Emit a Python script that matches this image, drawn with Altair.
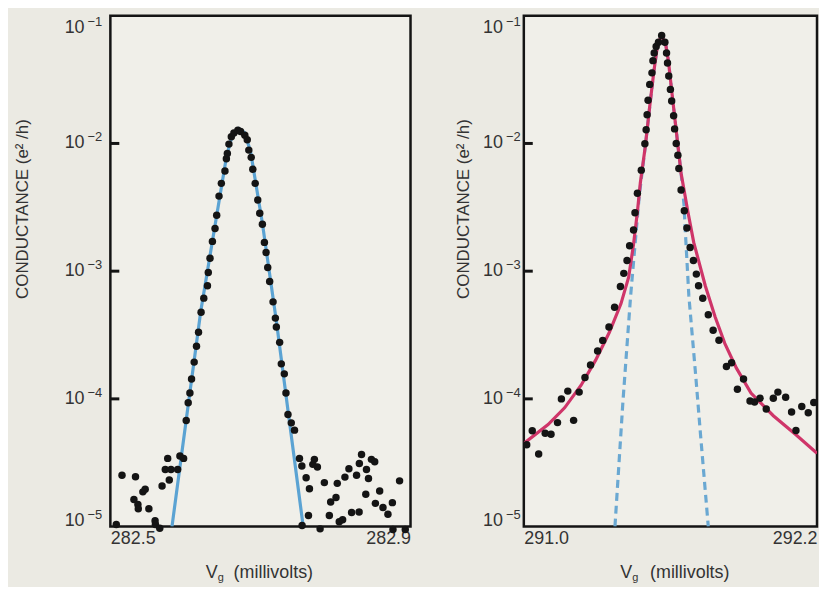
import altair as alt
import pandas as pd

# ---------------- data ----------------
# Left panel: measured points
L_VG = [282.5079, 282.5155, 282.5314, 282.5335, 282.5367, 282.5372, 282.5433, 282.5464,
        282.5513, 282.5596, 282.5600, 282.5658, 282.5689, 282.5732, 282.5764, 282.5785,
        282.5808, 282.5897, 282.5927, 282.5976, 282.6011, 282.6037, 282.6060, 282.6082,
        282.6117, 282.6148, 282.6175, 282.6209, 282.6245, 282.6294, 282.6305, 282.6328,
        282.6360, 282.6395, 282.6417, 282.6448, 282.6479, 282.6527, 282.6546, 282.6559,
        282.6580, 282.6612, 282.6646, 282.6699, 282.6735, 282.6792, 282.6824, 282.6845,
        282.6877, 282.6898, 282.6930, 282.6964, 282.6991, 282.7026, 282.7053, 282.7075,
        282.7097, 282.7123, 282.7168, 282.7199, 282.7212, 282.7256, 282.7278, 282.7318,
        282.7340, 282.7367, 282.7411, 282.7454, 282.7520, 282.7552, 282.7555, 282.7609,
        282.7640, 282.7653, 282.7698, 282.7719, 282.7759, 282.7795, 282.7852, 282.7918,
        282.7936, 282.8007, 282.8024, 282.8050, 282.8095, 282.8126, 282.8179, 282.8215,
        282.8281, 282.8315, 282.8318, 282.8347, 282.8404, 282.8413, 282.8440, 282.8479,
        282.8523, 282.8532, 282.8589, 282.8633, 282.8699, 282.8758, 282.8766, 282.8854,
        282.8930]
L_G = [1.04e-5, 2.52e-5, 1.63e-5, 2.46e-5, 1.49e-5, 1.38e-5, 1.87e-5, 1.96e-5,
       1.38e-5, 1.11e-5, 1.04e-5, 0.97e-5, 2.08e-5, 2.80e-5, 3.42e-5, 2.32e-5,
       2.80e-5, 2.80e-5, 3.57e-5, 3.42e-5, 6.77e-5, 9.31e-5, 1.11e-4, 1.43e-4,
       1.94e-4, 2.58e-4, 3.32e-4, 4.76e-4, 6.15e-4, 7.68e-4, 9.77e-4, 1.26e-3,
       1.71e-3, 2.16e-3, 2.74e-3, 3.87e-3, 4.87e-3, 6.08e-3, 7.59e-3, 8.35e-3,
       9.88e-3, 1.13e-2, 1.21e-2, 1.27e-2, 1.24e-2, 1.16e-2, 1.07e-2, 8.87e-3,
       7.78e-3, 6.27e-3, 4.87e-3, 3.61e-3, 2.84e-3, 2.33e-3, 1.68e-3, 1.40e-3,
       1.07e-3, 8.31e-4, 5.75e-4, 4.29e-4, 3.65e-4, 2.77e-4, 1.88e-4, 1.57e-4,
       1.11e-4, 7.54e-5, 6.49e-5, 5.69e-5, 3.42e-5, 2.98e-5, 1.02e-5, 2.41e-5,
       1.22e-5, 1.98e-5, 3.07e-5, 3.36e-5, 2.93e-5, 0.96e-5, 2.21e-5, 1.22e-5,
       1.56e-5, 1.69e-5, 2.18e-5, 1.09e-5, 1.13e-5, 2.44e-5, 2.84e-5, 1.29e-5,
       2.52e-5, 1.30e-5, 3.12e-5, 3.67e-5, 1.79e-5, 2.80e-5, 2.38e-5, 3.36e-5,
       3.22e-5, 1.52e-5, 1.90e-5, 1.41e-5, 1.25e-5, 1.54e-5, 0.95e-5, 2.28e-5,
       0.95e-5]
# Left panel: fitted line
L_FIT_VG = [282.5821, 282.6020, 282.6205, 282.6404, 282.6550, 282.6629, 282.6709,
            282.6788, 282.6868, 282.7026, 282.7212, 282.7371, 282.7570]
L_FIT_G = [1.0e-5, 7.50e-5, 4.87e-4, 2.46e-3, 8.05e-3, 1.18e-2, 1.31e-2,
           1.22e-2, 8.66e-3, 2.37e-3, 4.07e-4, 7.78e-5, 1.0e-5]

# Right panel: measured points
R_VG = [291.0119, 291.0346, 291.0608, 291.0874, 291.1113, 291.1379, 291.1538, 291.1800,
        291.2038, 291.2265, 291.2503, 291.2730, 291.3020, 291.3230, 291.3485, 291.3715,
        291.3954, 291.4093, 291.4224, 291.4331, 291.4490, 291.4550, 291.4649, 291.4808,
        291.4955, 291.5007, 291.5046, 291.5086, 291.5154, 291.5245, 291.5285, 291.5336,
        291.5416, 291.5511, 291.5642, 291.5774, 291.5841, 291.5881, 291.5932, 291.6000,
        291.6052, 291.6131, 291.6171, 291.6238, 291.6306, 291.6346, 291.6437, 291.6568,
        291.6676, 291.6807, 291.6942, 291.7061, 291.7152, 291.7323, 291.7550, 291.7748,
        291.7987, 291.8293, 291.8503, 291.8742, 291.8992, 291.9258, 291.9445, 291.9668,
        291.9922, 292.0212, 292.0399, 292.0717, 292.0959, 292.1138, 292.1376, 292.1642,
        292.1869]
R_G = [4.38e-5, 5.62e-5, 3.70e-5, 5.38e-5, 5.29e-5, 6.52e-5, 1.00e-4, 1.15e-4,
       6.79e-5, 1.13e-4, 1.47e-4, 1.84e-4, 2.37e-4, 2.87e-4, 3.65e-4, 5.21e-4,
       7.58e-4, 9.61e-4, 1.21e-3, 1.58e-3, 2.10e-3, 2.87e-3, 4.07e-3, 6.18e-3,
       9.95e-3, 1.28e-2, 1.68e-2, 2.18e-2, 2.90e-2, 3.57e-2, 4.45e-2, 5.10e-2,
       5.75e-2, 6.21e-2, 7.00e-2, 6.21e-2, 5.10e-2, 4.27e-2, 3.37e-2, 2.65e-2,
       2.15e-2, 1.65e-2, 1.30e-2, 1.00e-2, 8.07e-3, 6.37e-3, 4.32e-3, 2.97e-3,
       2.18e-3, 1.53e-3, 1.21e-3, 9.48e-4, 7.69e-4, 6.14e-4, 4.56e-4, 3.45e-4,
       2.88e-4, 1.79e-4, 1.92e-4, 1.19e-4, 1.43e-4, 9.64e-5, 9.45e-5, 1.01e-4,
       8.32e-5, 1.01e-4, 1.13e-4, 1.03e-4, 7.90e-5, 5.65e-5, 8.71e-5, 7.79e-5,
       9.36e-5]
# Right panel: Lorentzian fit (solid red)
RED_VG = [291.0000, 291.0993, 291.1669, 291.2344, 291.2940, 291.3497, 291.3974, 291.4291,
          291.4490, 291.4649, 291.4768, 291.4967, 291.5165, 291.5324, 291.5483, 291.5642,
          291.5801, 291.5920, 291.6039, 291.6238, 291.6437, 291.6715, 291.6954, 291.7430,
          291.7828, 291.8225, 291.8702, 291.9298, 292.0212, 292.1126, 292.2000]
RED_G = [4.48e-5, 6.29e-5, 8.51e-5, 1.28e-4, 2.01e-4, 3.31e-4, 5.55e-4, 8.98e-4,
         1.62e-3, 2.92e-3, 4.90e-3, 9.31e-3, 2.04e-2, 3.68e-2, 6.07e-2, 7.00e-2,
         6.07e-2, 4.40e-2, 2.72e-2, 1.26e-2, 5.85e-3, 2.92e-3, 1.68e-3, 7.65e-4,
         4.40e-4, 2.72e-4, 1.74e-4, 1.11e-4, 7.38e-5, 5.26e-5, 3.75e-5]
# Right panel: thermal fit (dashed blue)
BLUE_VG = [291.3730, 291.4053, 291.4371, 291.4570, 291.4728, 291.4967, 291.5165, 291.5324,
           291.5483, 291.5642, 291.5801, 291.5920, 291.6039, 291.6238, 291.6437, 291.6556,
           291.6596, 291.6755, 291.7033, 291.7232, 291.7550]
BLUE_G = [1.0e-5, 9.31e-5, 6.40e-4, 1.77e-3, 3.95e-3, 9.31e-3, 2.04e-2, 3.68e-2,
          6.07e-2, 7.00e-2, 6.07e-2, 4.40e-2, 2.72e-2, 1.26e-2, 5.85e-3, 3.31e-3,
          2.31e-3, 6.40e-4, 1.54e-4, 5.26e-5, 1.0e-5]

Y_TICKS = [1e-1, 1e-2, 1e-3, 1e-4, 1e-5]
Y_BASE = "10"
Y_EXP = ["\u22121", "\u22122", "\u22123", "\u22124", "\u22125"]
INNER_TICKS = [1e-2, 1e-3, 1e-4]
Y_TITLE = "CONDUCTANCE (e² /h)"
X_TITLE_MAIN = "V"
X_TITLE_SUB = "g"
X_TITLE_UNIT = "(millivolts)"

FONT = "Liberation Sans"
TXT = "#333333"


def panel(vg, g, curves, xdomain, xvals, width, height, ext, tpad, title_y, lab_x, title_pos):
    xs = alt.Scale(domain=xdomain, nice=False, zero=False)
    ys = alt.Scale(type="log", domain=[1e-5, 1e-1], nice=False)
    xa = alt.Axis(values=xvals, format=".1f", labelFlush=True, title=None, ticks=False,
                  domain=False, grid=False, labelPadding=3, labelFontSize=18,
                  labelColor=TXT, labelFont=FONT)
    ya = alt.Axis(values=Y_TICKS, labels=False, ticks=False, domain=False, grid=False,
                  minExtent=ext, maxExtent=ext, title=Y_TITLE, titlePadding=tpad,
                  titleX=-(ext + tpad), titleY=title_y, titleAngle=270,
                  titleAlign="center", titleBaseline="bottom",
                  titleFontSize=17, titleFontWeight="normal", titleColor=TXT,
                  titleFont=FONT)
    layers = []
    for cv, cg, color, dash in curves:
        df = pd.DataFrame({"v": cv, "g": cg})
        props = dict(color=color, strokeWidth=3.2, clip=True)
        if dash:
            props["strokeDash"] = dash
        layers.append(alt.Chart(df).mark_line(**props).encode(
            x=alt.X("v:Q", scale=xs, axis=xa), y=alt.Y("g:Q", scale=ys, axis=ya)))
    pts = pd.DataFrame({"v": vg, "g": g})
    layers.append(alt.Chart(pts).mark_circle(size=56, color="#141414", opacity=1).encode(
        x=alt.X("v:Q", scale=xs, axis=xa), y=alt.Y("g:Q", scale=ys, axis=ya)))
    tk = pd.DataFrame({"g": INNER_TICKS})
    layers.append(alt.Chart(tk).mark_rule(color="#141414", strokeWidth=3).encode(
        y=alt.Y("g:Q", scale=ys, axis=ya), x=alt.value(0), x2=alt.value(9)))
    # y tick labels "10" with raised exponent
    lab = pd.DataFrame({"g": Y_TICKS, "b": [Y_BASE] * len(Y_TICKS), "e": Y_EXP})
    groups = [(lab.iloc[:1], 12), (lab.iloc[1:-1], 0), (lab.iloc[-1:], -6)]
    for sub, dy in groups:
        layers.append(alt.Chart(sub).mark_text(
            align="right", baseline="middle", fontSize=18, font=FONT, color=TXT, dy=dy).encode(
            y=alt.Y("g:Q", scale=ys, axis=ya), x=alt.value(lab_x), text="b:N"))
        layers.append(alt.Chart(sub).mark_text(
            align="left", baseline="middle", fontSize=13, font=FONT, color=TXT, dy=dy - 6).encode(
            y=alt.Y("g:Q", scale=ys, axis=ya), x=alt.value(lab_x + 3), text="e:N"))
    (vx, gx, ux, ty) = title_pos
    for txt, xx, yy, fs in [(X_TITLE_MAIN, vx, ty, 18), (X_TITLE_SUB, gx, ty + 3, 11),
                            (X_TITLE_UNIT, ux, ty, 18)]:
        layers.append(alt.Chart(pd.DataFrame({"t": [txt]})).mark_text(
            align="left", baseline="alphabetic", fontSize=fs, font=FONT, color=TXT).encode(
            text="t:N", x=alt.value(xx), y=alt.value(yy)))
    return alt.layer(*layers).properties(width=width, height=height)


left = panel(L_VG, L_G, [(L_FIT_VG, L_FIT_G, "#5ba3d3", None)], [282.5, 282.9],
             [282.5, 282.9], 302, 514, 47, 32, 194, -26, (96, 108, 124, 566))
right = panel(R_VG, R_G, [(BLUE_VG, BLUE_G, "#6aa8d2", [8, 5]), (RED_VG, RED_G, "#cf3569", None)],
              [291.0, 292.2], [291.0, 292.2], 295, 514, 41, 11, 194, -21, (97, 109, 127, 566))

chart = alt.hconcat(left, right, spacing=40).properties(
    background="#ebeae3", padding={"left": 4, "top": 4, "right": 0, "bottom": 0}
).configure_view(stroke="#141414", strokeWidth=2.5, fill="#f0efe9")

chart.save("out.html", embed_options={"renderer": "svg", "actions": False})
